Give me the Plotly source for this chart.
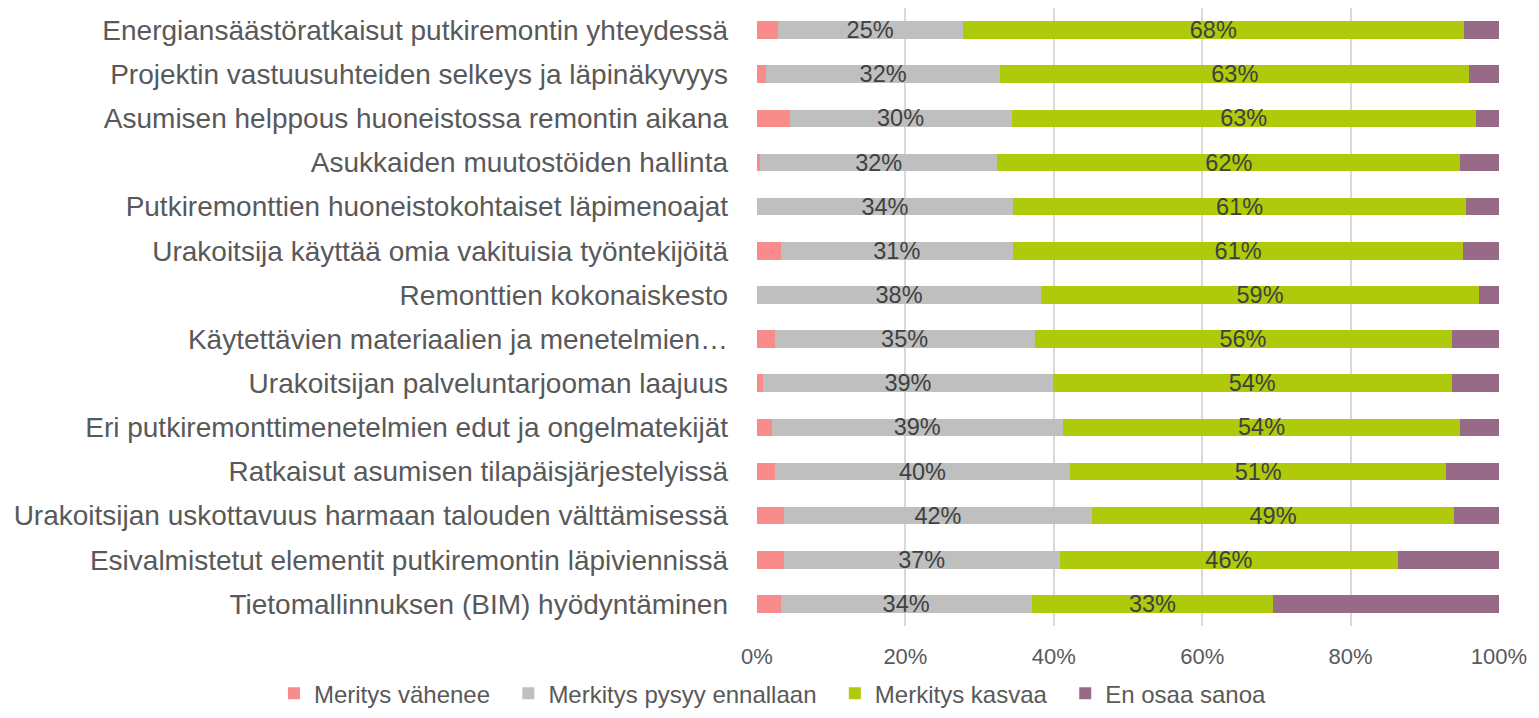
import plotly.graph_objects as go

categories = [
    "Energiansäästöratkaisut putkiremontin yhteydessä",
    "Projektin vastuusuhteiden selkeys ja läpinäkyvyys",
    "Asumisen helppous huoneistossa remontin aikana",
    "Asukkaiden muutostöiden hallinta",
    "Putkiremonttien huoneistokohtaiset läpimenoajat",
    "Urakoitsija käyttää omia vakituisia työntekijöitä",
    "Remonttien kokonaiskesto",
    "Käytettävien materiaalien ja menetelmien…",
    "Urakoitsijan palveluntarjooman laajuus",
    "Eri putkiremonttimenetelmien edut ja ongelmatekijät",
    "Ratkaisut asumisen tilapäisjärjestelyissä",
    "Urakoitsijan uskottavuus harmaan talouden välttämisessä",
    "Esivalmistetut elementit putkiremontin läpiviennissä",
    "Tietomallinnuksen (BIM) hyödyntäminen",
]

vahenee = [2.8, 1.2, 4.4, 0.4, 0.0, 3.2, 0.0, 2.4, 0.8, 2.0, 2.4, 3.6, 3.6, 3.2]
pysyy = [24.9, 31.6, 29.9, 32.0, 34.5, 31.3, 38.3, 35.0, 39.1, 39.2, 39.8, 41.6, 37.2, 33.8]
kasvaa = [67.6, 63.2, 62.6, 62.4, 61.1, 60.7, 59.0, 56.2, 53.7, 53.6, 50.7, 48.7, 45.6, 32.6]
en_osaa = [4.7, 4.0, 3.1, 5.2, 4.4, 4.8, 2.7, 6.4, 6.4, 5.2, 7.1, 6.1, 13.6, 30.4]

series_names = ["Meritys vähenee", "Merkitys pysyy ennallaan", "Merkitys kasvaa", "En osaa sanoa"]
colors = ["#F88C8A", "#BFBFBF", "#AFCA0B", "#976B87"]
x_ticks = [0, 20, 40, 60, 80, 100]
x_tick_labels = ["0%", "20%", "40%", "60%", "80%", "100%"]

FONT = "Liberation Sans, Arial, sans-serif"
PAD = "\u00a0\u00a0"  # invisible spacing after legend names

fig = go.Figure()
all_series = [vahenee, pysyy, kasvaa, en_osaa]
show_text = [False, True, True, False]
for name, vals, col, st in zip(series_names, all_series, colors, show_text):
    fig.add_trace(go.Bar(
        y=categories, x=vals, name=name + PAD, orientation="h",
        marker=dict(color=col, line=dict(width=0)),
        text=[f"{round(v)}%" for v in vals] if st else None,
        textposition="inside" if st else "none",
        insidetextanchor="middle",
        constraintext="none",
        textfont=dict(family=FONT, size=23.5, color="#404040"),
        hovertemplate=name + ": %{x:.0f}%<extra></extra>",
    ))

fig.update_layout(
    barmode="stack",
    width=1531, height=710,
    margin=dict(l=749, r=40, t=0, b=92),
    plot_bgcolor="white", paper_bgcolor="white",
    bargap=0.6,
    font=dict(family=FONT, color="#595959"),
    legend=dict(
        orientation="h", xref="paper", yref="paper",
        x=-0.651, xanchor="left", y=-0.146, yanchor="bottom",
        font=dict(family=FONT, size=24, color="#595959"),
        itemwidth=30, traceorder="normal",
        borderwidth=0,
    ),
    showlegend=True,
)
fig.update_xaxes(
    range=[0, 100], tickvals=x_ticks, ticktext=x_tick_labels,
    showgrid=True, gridcolor="#D9D9D9", gridwidth=1.5,
    zeroline=False, showline=False,
    tickfont=dict(family=FONT, size=22, color="#595959"),
    ticklabelstandoff=15,
)
fig.update_yaxes(
    autorange="reversed", showgrid=False, showline=False,
    tickfont=dict(family=FONT, size=28, color="#595959"),
    ticklabelstandoff=28,
)

fig.write_html("out.html")
